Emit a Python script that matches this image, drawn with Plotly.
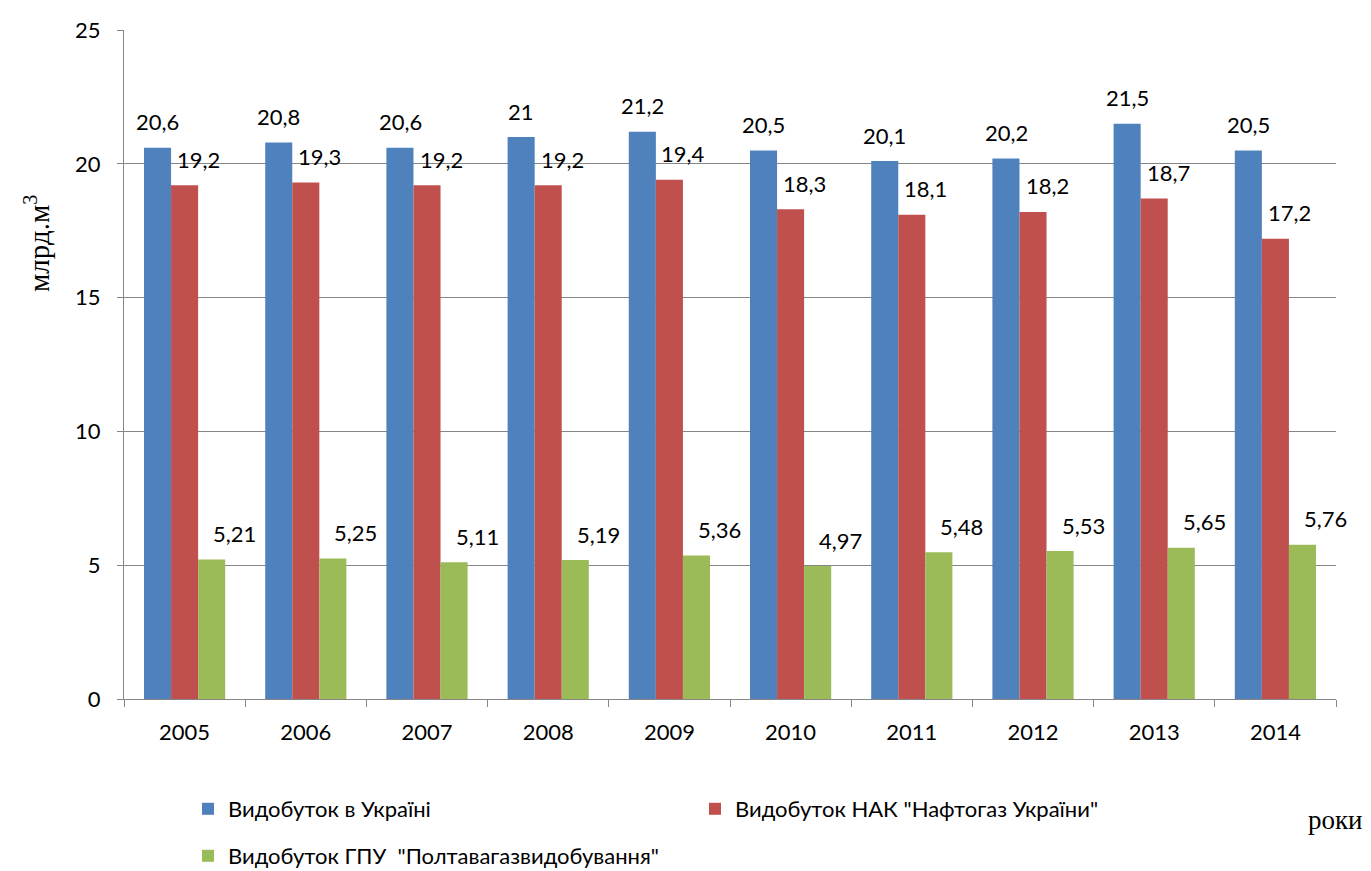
import plotly.graph_objects as go

years = ["2005", "2006", "2007", "2008", "2009", "2010", "2011", "2012", "2013", "2014"]
ukraine = [20.6, 20.8, 20.6, 21.0, 21.2, 20.5, 20.1, 20.2, 21.5, 20.5]
naftogaz = [19.2, 19.3, 19.2, 19.2, 19.4, 18.3, 18.1, 18.2, 18.7, 17.2]
poltava = [5.21, 5.25, 5.11, 5.19, 5.36, 4.97, 5.48, 5.53, 5.65, 5.76]

names = ["Видобуток в Україні", "Видобуток НАК \"Нафтогаз України\"",
         "Видобуток ГПУ  \"Полтавагазвидобування\""]
colors = ["#4F81BD", "#C0504D", "#9BBB59"]
series = [ukraine, naftogaz, poltava]
legends = ["legend", "legend", "legend2"]
label_shift = [-27, 14, 50]

FONT = "Lato"
W, H = 1371, 871
L, R, T, B = 124, 35, 30, 172
pw, ph = W - L - R, H - T - B


def fmt(v):
    return ("%g" % v).replace(".", ",")


def px_to_paper(x, y):
    return (x - L) / pw, (H - B - y) / ph


fig = go.Figure()
for nm, col, vals, lg in zip(names, colors, series, legends):
    fig.add_trace(go.Bar(x=years, y=vals, name=nm, marker=dict(color=col, line=dict(width=0)),
                         legend=lg))

annotations = []
for vals, dx in zip(series, label_shift):
    for i, v in enumerate(vals):
        annotations.append(dict(x=i, y=v, xref="x", yref="y", text=fmt(v), showarrow=False,
                                xshift=dx, yshift=26, yanchor="middle", xanchor="center",
                                font=dict(family=FONT, size=22, color="#000000")))

ax, ay = px_to_paper(37, 244)
annotations.append(dict(x=ax, y=ay, xref="paper", yref="paper", text="млрд.м<sup>3</sup>",
                        showarrow=False, textangle=-90, xanchor="center", yanchor="middle",
                        font=dict(family="Liberation Serif", size=29, color="#000000")))
rx, ry = px_to_paper(1335, 820)
annotations.append(dict(x=rx, y=ry, xref="paper", yref="paper", text="роки", showarrow=False,
                        xanchor="center", yanchor="middle",
                        font=dict(family="Liberation Serif", size=27, color="#000000")))

lx1, ly1 = px_to_paper(188, 788)
lx2, ly2 = px_to_paper(188, 835)

fig.update_layout(
    width=W, height=H,
    margin=dict(l=L, r=R, t=T, b=B, autoexpand=False),
    paper_bgcolor="white", plot_bgcolor="white",
    barmode="group", bargap=0.33, bargroupgap=0,
    font=dict(family=FONT, size=22, color="#000000"),
    annotations=annotations,
    xaxis=dict(type="category", showline=True, linecolor="#868686", linewidth=1,
               ticks="outside", tickson="boundaries", ticklen=7, tickcolor="#868686",
               tickfont=dict(family=FONT, size=22), showgrid=False, range=[-0.5, 9.5],
               ticklabelstandoff=14),
    yaxis=dict(range=[0, 25], dtick=5, showline=True, linecolor="#868686", linewidth=1,
               ticks="outside", ticklen=6, tickcolor="#868686", showgrid=True,
               gridcolor="#868686", gridwidth=1, zeroline=False,
               tickfont=dict(family=FONT, size=22), ticklabelstandoff=12),
    legend=dict(orientation="h", x=lx1, xanchor="left", y=ly1,
                yanchor="top", entrywidth=462, entrywidthmode="pixels",
                font=dict(family=FONT, size=22), bgcolor="rgba(0,0,0,0)"),
    legend2=dict(orientation="h", x=lx2, xanchor="left", y=ly2,
                 yanchor="top", font=dict(family=FONT, size=22), bgcolor="rgba(0,0,0,0)"),
    showlegend=True,
)

fig.write_html("out.html")
